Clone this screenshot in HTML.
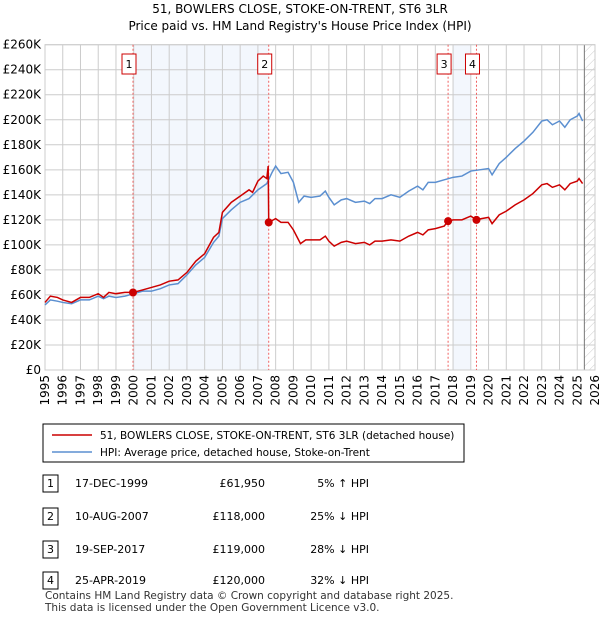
<!DOCTYPE html>
<html><head><meta charset="utf-8"><style>
body{margin:0;background:#fff;font-family:"Liberation Sans","DejaVu Sans",sans-serif;}
svg text{font-family:"DejaVu Sans","Liberation Sans",sans-serif;}
</style></head><body>
<svg width="600" height="620" xmlns="http://www.w3.org/2000/svg" id="chart">
<defs><pattern id="hatch" width="6" height="6" patternUnits="userSpaceOnUse" patternTransform="rotate(45)"><line x1="0" y1="0" x2="0" y2="6" stroke="#ccc" stroke-width="1"/></pattern></defs>
<text x="300" y="13" text-anchor="middle" font-size="12">51, BOWLERS CLOSE, STOKE-ON-TRENT, ST6 3LR</text>
<text x="300" y="30" text-anchor="middle" font-size="12">Price paid vs. HM Land Registry's House Price Index (HPI)</text>
<g id="plot"></g>
<g>
<rect x="43" y="424" width="421" height="38" fill="#fff" stroke="#000" stroke-width="1"/>
<line x1="52" y1="435" x2="92" y2="435" stroke="#cc0000" stroke-width="1.5"/>
<text x="100" y="439" font-size="10.5">51, BOWLERS CLOSE, STOKE-ON-TRENT, ST6 3LR (detached house)</text>
<line x1="52" y1="452" x2="92" y2="452" stroke="#5b8fd0" stroke-width="1.5"/>
<text x="100" y="456" font-size="10.5">HPI: Average price, detached house, Stoke-on-Trent</text>
</g>
<g id="table" font-size="11"></g>
<text x="45" y="599" font-size="10.5" fill="#333">Contains HM Land Registry data © Crown copyright and database right 2025.</text>
<text x="45" y="611" font-size="10.5" fill="#333">This data is licensed under the Open Government Licence v3.0.</text>
</svg>
<script>
const hpiYears=[1995,1995.3,1995.7,1996,1996.5,1997,1997.5,1998,1998.3,1998.6,1999,1999.5,2000,2000.5,2001,2001.5,2002,2002.5,2003,2003.5,2004,2004.5,2004.8,2005,2005.5,2006,2006.5,2007,2007.5,2007.8,2008,2008.3,2008.7,2009,2009.3,2009.6,2010,2010.5,2010.8,2011,2011.3,2011.7,2012,2012.5,2013,2013.3,2013.6,2014,2014.5,2015,2015.5,2016,2016.3,2016.6,2017,2017.5,2018,2018.5,2019,2019.5,2020,2020.2,2020.6,2021,2021.5,2022,2022.5,2023,2023.3,2023.6,2024,2024.3,2024.6,2025,2025.1,2025.3];
const hpiValues=[52,56,55,54,53,56,56,59,57,59,58,59,61,63,63,65,68,69,76,84,90,102,107,121,128,134,137,144,149,158,163,157,158,150,134,139,138,139,143,138,132,136,137,134,135,133,137,137,140,138,143,147,144,150,150,152,154,155,159,160,161,156,165,170,177,183,190,199,200,196,199,194,200,203,205,199];
const redYears=[1995,1995.3,1995.7,1996,1996.5,1997,1997.5,1998,1998.3,1998.6,1999,1999.5,1999.96,2000.5,2001,2001.5,2002,2002.5,2003,2003.5,2004,2004.5,2004.8,2005,2005.5,2006,2006.5,2006.7,2007,2007.3,2007.5,2007.58,2007.61,2008,2008.3,2008.7,2009,2009.4,2009.7,2010,2010.5,2010.8,2011,2011.3,2011.7,2012,2012.5,2013,2013.3,2013.6,2014,2014.5,2015,2015.5,2016,2016.3,2016.6,2017,2017.5,2017.72,2018,2018.5,2019,2019.32,2019.6,2020,2020.2,2020.6,2021,2021.5,2022,2022.5,2023,2023.3,2023.6,2024,2024.3,2024.6,2025,2025.1,2025.3];
const redValues=[54,59,58,56,54,58,58,61,58,62,61,62,62,64,66,68,71,72,78,87,93,106,110,126,134,139,144,142,151,155,153,163,118,121,118,118,112,101,104,104,104,107,103,99,102,103,101,102,100,103,103,104,103,107,110,108,112,113,115,119,120,120,123,120,121,122,117,124,127,132,136,141,148,149,146,148,144,149,151,153,149];
const saleYears=[1999.96,2007.61,2017.72,2019.32];
const saleValues=[61.95,118,119,120];
const saleLabels=["1","2","3","4"];
const saleDates=["17-DEC-1999","10-AUG-2007","19-SEP-2017","25-APR-2019"];
const salePrices=["£61,950","£118,000","£119,000","£120,000"];
const saleHpi=["5% ↑ HPI","25% ↓ HPI","28% ↓ HPI","32% ↓ HPI"];
const yTicks=[0,20,40,60,80,100,120,140,160,180,200,220,240,260];
const xTicks=[1995,1996,1997,1998,1999,2000,2001,2002,2003,2004,2005,2006,2007,2008,2009,2010,2011,2012,2013,2014,2015,2016,2017,2018,2019,2020,2021,2022,2023,2024,2025,2026];

const L=45,R=595,T=44.7,B=370;
const x=y=>L+(y-1995)/(2026-1995)*(R-L);
const yv=v=>B-v/260*(B-T);
const NS="http://www.w3.org/2000/svg";
const plot=document.getElementById('plot');
function mk(tag,attrs,parent){const e=document.createElementNS(NS,tag);for(const k in attrs)e.setAttribute(k,attrs[k]);(parent||plot).appendChild(e);return e;}
let e;
e=mk('rect',{x:x(2000),y:T,width:x(2007.6)-x(2000),height:B-T,fill:'#eef3fc',opacity:0.7});


e=mk('rect',{x:x(2018),y:T,width:x(2019)-x(2018),height:B-T,fill:'#eef3fc',opacity:0.7});


e=mk('rect',{x:x(2025.4),y:T,width:R-x(2025.4),height:B-T,fill:'url(#hatch)'});


yTicks.forEach(v=>{
  e=mk('line',{x1:L,x2:R,y1:yv(v),y2:yv(v),stroke:'#ccc','stroke-width':1});
  
  
  e=mk('text',{x:L-4,y:yv(v)+4,'text-anchor':'end','font-size':12});
  e.textContent=v===0?'£0':'£'+v+'K';
  
  
});
xTicks.forEach(t=>{
  e=mk('line',{x1:x(t),x2:x(t),y1:T,y2:B,stroke:'#ccc','stroke-width':1});
  
  
  e=mk('text',{x:0,y:0,'text-anchor':'end','font-size':12,transform:`translate(${x(t)+4},${B+5}) rotate(-90)`});
  e.textContent=t;
  
  
});
e=mk('line',{x1:x(2025.4),x2:x(2025.4),y1:T,y2:B,stroke:'#777','stroke-width':1});


e=mk('rect',{x:L,y:T,width:R-L,height:B-T,fill:'none',stroke:'#ccc'});


saleYears.forEach((s,i)=>{
  e=mk('line',{x1:x(s),x2:x(s),y1:T,y2:B,stroke:'#f06060','stroke-width':1,'stroke-dasharray':'2,2'});
  
  
});
e=mk('polyline',{points:hpiYears.map((t,i)=>x(t)+','+yv(hpiValues[i])).join(' '),fill:'none',stroke:'#5b8fd0','stroke-width':1.5});


e=mk('polyline',{points:redYears.map((t,i)=>x(t)+','+yv(redValues[i])).join(' '),fill:'none',stroke:'#cc0000','stroke-width':1.5});


saleYears.forEach((s,i)=>{
  e=mk('circle',{cx:x(s),cy:yv(saleValues[i]),r:4,fill:'#cc0000'});
  
  
  const cx=x(s)-4;
  e=mk('rect',{x:cx-7,y:54,width:14,height:20,fill:'#fff',stroke:'#cc0000'});
  
  
  e=mk('text',{x:cx,y:68,'text-anchor':'middle','font-size':11});
  e.textContent=saleLabels[i];
  
  
});
const tb=document.getElementById('table');
const rowY=[483,516,549,580];
saleLabels.forEach((lab,i)=>{
  const y0=rowY[i];
  e=mk('rect',{x:43,y:y0-8,width:15,height:17,fill:'#fff',stroke:'#000'},tb);
  
  
  e=mk('text',{x:50.5,y:y0+4,'text-anchor':'middle'},tb);e.textContent=lab;
  
  
  e=mk('text',{x:75,y:y0+4},tb);e.textContent=saleDates[i];
  
  
  e=mk('text',{x:265,y:y0+4,'text-anchor':'end'},tb);e.textContent=salePrices[i];
  
  
  e=mk('text',{x:369,y:y0+4,'text-anchor':'end'},tb);e.textContent=saleHpi[i];
  
  
});
</script>
</body></html>
